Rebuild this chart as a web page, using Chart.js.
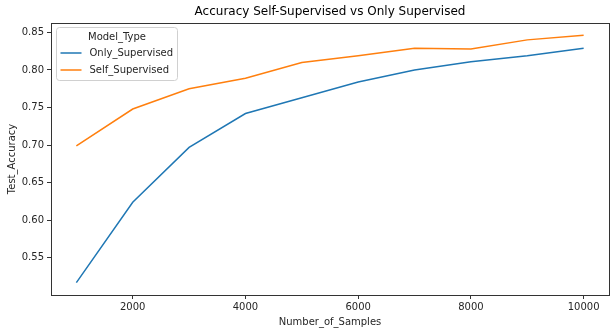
<!DOCTYPE html>
<html>
<head>
<meta charset="utf-8">
<script src="https://cdn.jsdelivr.net/npm/chart.js@4.4.0/dist/chart.umd.min.js"></script>
<style>
  html, body { margin: 0; padding: 0; background: #fff; }
  canvas { display: block; }
</style>
</head>
<body>
<canvas id="accChart" width="616" height="334"></canvas>
<script>
// data
var samples = [1000, 2000, 3000, 4000, 5000, 6000, 7000, 8000, 9000, 10000];
var onlySupervised = [0.517, 0.624, 0.697, 0.742, 0.763, 0.784, 0.800, 0.811, 0.819, 0.829];
var selfSupervised = [0.699, 0.748, 0.775, 0.789, 0.810, 0.819, 0.829, 0.828, 0.840, 0.846];
var xTicks = [2000, 4000, 6000, 8000, 10000];
var yTicks = [0.55, 0.60, 0.65, 0.70, 0.75, 0.80, 0.85];

var FONT = "'DejaVu Sans', sans-serif";
var TXT = '#262626';

// matplotlib style 5% margins
var allY = onlySupervised.concat(selfSupervised);
var yLo = Math.min.apply(null, allY), yHi = Math.max.apply(null, allY);
var yPad = (yHi - yLo) * 0.05;
var xPad = (samples[samples.length - 1] - samples[0]) * 0.05;

function toPoints(xs, ys) {
    return xs.map(function(x, i) { return { x: x, y: ys[i] }; });
}

// axes frame + title centred over the axes + legend box inside
var frameAndLegend = {
    id: 'frameAndLegend',
    afterDraw: function(chart) {
        var ctx = chart.ctx, a = chart.chartArea;
        ctx.save();
        ctx.strokeStyle = '#333';
        ctx.lineWidth = 1;
        ctx.strokeRect(Math.round(a.left) + 0.5, Math.round(a.top) + 0.5,
                       Math.round(a.right - a.left), Math.round(a.bottom - a.top));

        ctx.fillStyle = '#000';
        ctx.font = '12px ' + FONT;
        ctx.textAlign = 'center';
        ctx.textBaseline = 'middle';
        ctx.fillText('Accuracy Self-Supervised vs Only Supervised', (a.left + a.right) / 2, 12);

        // legend
        var bx = a.left + 5.5, by = a.top + 4.5, bw = 121, bh = 53, r = 3;
        ctx.beginPath();
        ctx.moveTo(bx + r, by);
        ctx.arcTo(bx + bw, by, bx + bw, by + bh, r);
        ctx.arcTo(bx + bw, by + bh, bx, by + bh, r);
        ctx.arcTo(bx, by + bh, bx, by, r);
        ctx.arcTo(bx, by, bx + bw, by, r);
        ctx.closePath();
        ctx.fillStyle = 'rgba(255,255,255,0.8)';
        ctx.fill();
        ctx.strokeStyle = '#d0d0d0';
        ctx.stroke();

        ctx.font = '10px ' + FONT;
        ctx.fillStyle = TXT;
        ctx.fillText('Model_Type', bx + bw / 2, by + 9.5);
        ctx.textAlign = 'left';
        chart.data.datasets.forEach(function(ds, i) {
            var ly = by + 25.5 + i * 17;
            ctx.strokeStyle = ds.borderColor;
            ctx.lineWidth = 1.5;
            ctx.beginPath();
            ctx.moveTo(bx + 4, ly);
            ctx.lineTo(bx + 25, ly);
            ctx.stroke();
            ctx.fillStyle = TXT;
            ctx.fillText(ds.label, bx + 33, ly);
        });
        ctx.restore();
    }
};

var data = {
    datasets: [{
        label: 'Only_Supervised',
        data: toPoints(samples, onlySupervised),
        borderColor: '#1f77b4',
        backgroundColor: '#1f77b4',
        borderWidth: 1.5,
        pointRadius: 0,
        tension: 0,
        fill: false
    }, {
        label: 'Self_Supervised',
        data: toPoints(samples, selfSupervised),
        borderColor: '#ff7f0e',
        backgroundColor: '#ff7f0e',
        borderWidth: 1.5,
        pointRadius: 0,
        tension: 0,
        fill: false
    }]
};

var options = {
    responsive: false,
    animation: false,
    layout: { padding: { top: 23, right: 7, left: 0, bottom: 0 } },
    plugins: {
        legend: { display: false },
        title: { display: false },
        tooltip: { enabled: false }
    },
    scales: {
        x: {
            type: 'linear',
            min: samples[0] - xPad,
            max: samples[samples.length - 1] + xPad,
            afterBuildTicks: function(scale) {
                scale.ticks = xTicks.map(function(v) { return { value: v }; });
            },
            afterFit: function(scale) { scale.height = 39; },
            grid: { drawOnChartArea: false, drawTicks: true, tickLength: 4, color: '#333' },
            border: { display: true, color: '#333' },
            ticks: {
                padding: 2,
                color: TXT,
                font: { family: FONT, size: 10 },
                maxRotation: 0,
                callback: function(v) { return String(v); }
            },
            title: {
                display: true,
                text: 'Number_of_Samples',
                color: TXT,
                font: { family: FONT, size: 10 },
                padding: { top: 1, bottom: 6 }
            }
        },
        y: {
            min: yLo - yPad,
            max: yHi + yPad,
            afterBuildTicks: function(scale) {
                scale.ticks = yTicks.map(function(v) { return { value: v }; });
            },
            afterFit: function(scale) { scale.width = 51; },
            grid: { drawOnChartArea: false, drawTicks: true, tickLength: 4, color: '#333' },
            border: { display: true, color: '#333' },
            ticks: {
                padding: 3,
                color: TXT,
                font: { family: FONT, size: 10 },
                callback: function(v) { return v.toFixed(2); }
            },
            title: {
                display: true,
                text: 'Test_Accuracy',
                color: TXT,
                font: { family: FONT, size: 10 },
                padding: { top: 6, bottom: 2 }
            }
        }
    }
};

var ctx = document.getElementById('accChart').getContext('2d');
try {
    var accChart = new Chart(ctx, { type: 'line', data: data, options: options, plugins: [frameAndLegend] });
} catch (error) {
    document.body.textContent = error;
}
</script>
</body>
</html>
